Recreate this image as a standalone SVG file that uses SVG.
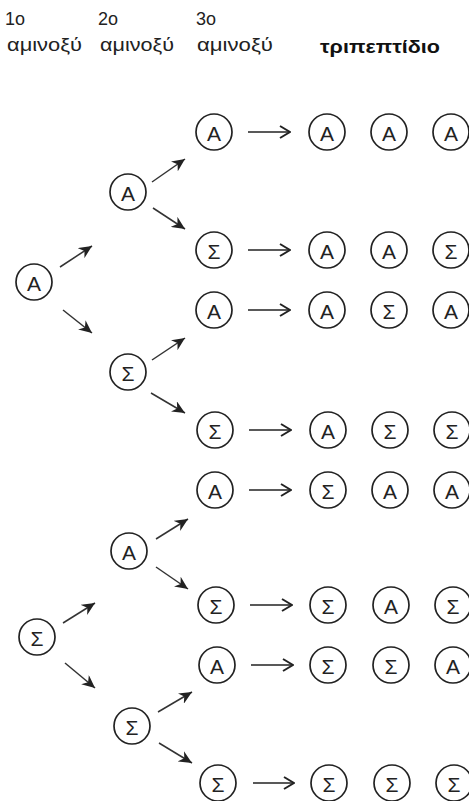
<svg xmlns="http://www.w3.org/2000/svg" width="469" height="801" viewBox="0 0 469 801">
<defs>
<style>
.hd{font-family:"Liberation Sans",Arial,sans-serif;font-size:18px;fill:#222}
.tt{font-family:"Liberation Sans",Arial,sans-serif;font-size:19px;font-weight:bold;fill:#111}
.n circle{fill:#fff;stroke:#222;stroke-width:1.7}
.n text{font-family:"Liberation Sans",Arial,sans-serif;font-size:21px;fill:#222;text-anchor:middle;dominant-baseline:central}
.d{stroke:#333;stroke-width:1.5;fill:none;marker-end:url(#ad)}
.h{stroke:#222;stroke-width:1.6;fill:none;marker-end:url(#ah)}
</style>
<marker id="ad" markerUnits="userSpaceOnUse" markerWidth="14" markerHeight="12" viewBox="0 0 14 12" refX="13" refY="6" orient="auto">
<path d="M0,0 L13,6 L0,12 L4,6 z" fill="#222"/>
</marker>
<marker id="ah" markerUnits="userSpaceOnUse" markerWidth="12" markerHeight="14" viewBox="0 0 12 14" refX="11" refY="7" orient="auto">
<path d="M1,1 L11,7 L1,13" fill="none" stroke="#222" stroke-width="2"/>
</marker>
</defs>
<rect width="469" height="801" fill="#fff"/>
<g id="headers">
<text class="hd" x="5" y="25">1o</text>
<text class="hd" x="7" y="51" textLength="75" lengthAdjust="spacingAndGlyphs">αμινοξύ</text>
<text class="hd" x="98" y="25">2o</text>
<text class="hd" x="100" y="51" textLength="74" lengthAdjust="spacingAndGlyphs">αμινοξύ</text>
<text class="hd" x="196" y="25">3o</text>
<text class="hd" x="197" y="51" textLength="76" lengthAdjust="spacingAndGlyphs">αμινοξύ</text>
<text class="tt" x="320" y="53" textLength="120" lengthAdjust="spacingAndGlyphs">τριπεπτίδιο</text>
</g>
<g id="connectors">
<line class="d" x1="60" y1="267" x2="92" y2="246"/>
<line class="d" x1="63" y1="310" x2="92" y2="333"/>
<line class="d" x1="63" y1="623" x2="95" y2="603"/>
<line class="d" x1="65" y1="663" x2="95" y2="688"/>
<line class="d" x1="152" y1="182" x2="185" y2="159"/>
<line class="d" x1="153" y1="208" x2="185" y2="229"/>
<line class="d" x1="152" y1="360" x2="185" y2="338"/>
<line class="d" x1="151" y1="393" x2="185" y2="413"/>
<line class="d" x1="156" y1="539" x2="188" y2="519"/>
<line class="d" x1="156" y1="567" x2="188" y2="589"/>
<line class="d" x1="158" y1="712" x2="192" y2="692"/>
<line class="d" x1="159" y1="743" x2="192" y2="763"/>
<line class="h" x1="248" y1="132" x2="290" y2="132"/>
<line class="h" x1="248" y1="250" x2="290" y2="250"/>
<line class="h" x1="248" y1="310" x2="290" y2="310"/>
<line class="h" x1="249" y1="430" x2="291" y2="430"/>
<line class="h" x1="249" y1="490" x2="291" y2="490"/>
<line class="h" x1="250" y1="605" x2="292" y2="605"/>
<line class="h" x1="251" y1="665" x2="293" y2="665"/>
<line class="h" x1="253" y1="783" x2="294" y2="783"/>
</g>
<g id="c1-A" class="n"><circle cx="34" cy="282" r="18"/><text x="34" y="283">A</text></g>
<g id="c1-S" class="n"><circle cx="37" cy="637" r="18"/><text x="37" y="638">Σ</text></g>
<g id="c2-AA" class="n"><circle cx="128" cy="192" r="18"/><text x="128" y="193">A</text></g>
<g id="c2-AS" class="n"><circle cx="128" cy="372" r="18"/><text x="128" y="373">Σ</text></g>
<g id="c2-SA" class="n"><circle cx="129" cy="551" r="18"/><text x="129" y="552">A</text></g>
<g id="c2-SS" class="n"><circle cx="132" cy="726" r="18"/><text x="132" y="727">Σ</text></g>
<g id="c3-1" class="n"><circle cx="214" cy="132" r="18"/><text x="214" y="133">A</text></g>
<g id="c3-2" class="n"><circle cx="214" cy="250" r="18"/><text x="214" y="251">Σ</text></g>
<g id="c3-3" class="n"><circle cx="214" cy="310" r="18"/><text x="214" y="311">A</text></g>
<g id="c3-4" class="n"><circle cx="215" cy="430" r="18"/><text x="215" y="431">Σ</text></g>
<g id="c3-5" class="n"><circle cx="215" cy="490" r="18"/><text x="215" y="491">A</text></g>
<g id="c3-6" class="n"><circle cx="216" cy="605" r="18"/><text x="216" y="606">Σ</text></g>
<g id="c3-7" class="n"><circle cx="217" cy="665" r="18"/><text x="217" y="666">A</text></g>
<g id="c3-8" class="n"><circle cx="218" cy="783" r="18"/><text x="218" y="784">Σ</text></g>
<g id="t1" class="n"><circle cx="327" cy="132" r="18"/><text x="327" y="133">A</text><circle cx="389" cy="132" r="18"/><text x="389" y="133">A</text><circle cx="451" cy="132" r="18"/><text x="451" y="133">A</text></g>
<g id="t2" class="n"><circle cx="327" cy="250" r="18"/><text x="327" y="251">A</text><circle cx="389" cy="250" r="18"/><text x="389" y="251">A</text><circle cx="451" cy="250" r="18"/><text x="451" y="251">Σ</text></g>
<g id="t3" class="n"><circle cx="327" cy="310" r="18"/><text x="327" y="311">A</text><circle cx="389" cy="310" r="18"/><text x="389" y="311">Σ</text><circle cx="451" cy="310" r="18"/><text x="451" y="311">A</text></g>
<g id="t4" class="n"><circle cx="328" cy="430" r="18"/><text x="328" y="431">A</text><circle cx="390" cy="430" r="18"/><text x="390" y="431">Σ</text><circle cx="452" cy="430" r="18"/><text x="452" y="431">Σ</text></g>
<g id="t5" class="n"><circle cx="328" cy="490" r="18"/><text x="328" y="491">Σ</text><circle cx="390" cy="490" r="18"/><text x="390" y="491">A</text><circle cx="452" cy="490" r="18"/><text x="452" y="491">A</text></g>
<g id="t6" class="n"><circle cx="328" cy="605" r="18"/><text x="328" y="606">Σ</text><circle cx="391" cy="605" r="18"/><text x="391" y="606">A</text><circle cx="453" cy="605" r="18"/><text x="453" y="606">Σ</text></g>
<g id="t7" class="n"><circle cx="328" cy="665" r="18"/><text x="328" y="666">Σ</text><circle cx="391" cy="665" r="18"/><text x="391" y="666">Σ</text><circle cx="453" cy="665" r="18"/><text x="453" y="666">A</text></g>
<g id="t8" class="n"><circle cx="329" cy="783" r="18"/><text x="329" y="784">Σ</text><circle cx="392" cy="783" r="18"/><text x="392" y="784">Σ</text><circle cx="454" cy="783" r="18"/><text x="454" y="784">Σ</text></g>
</svg>
